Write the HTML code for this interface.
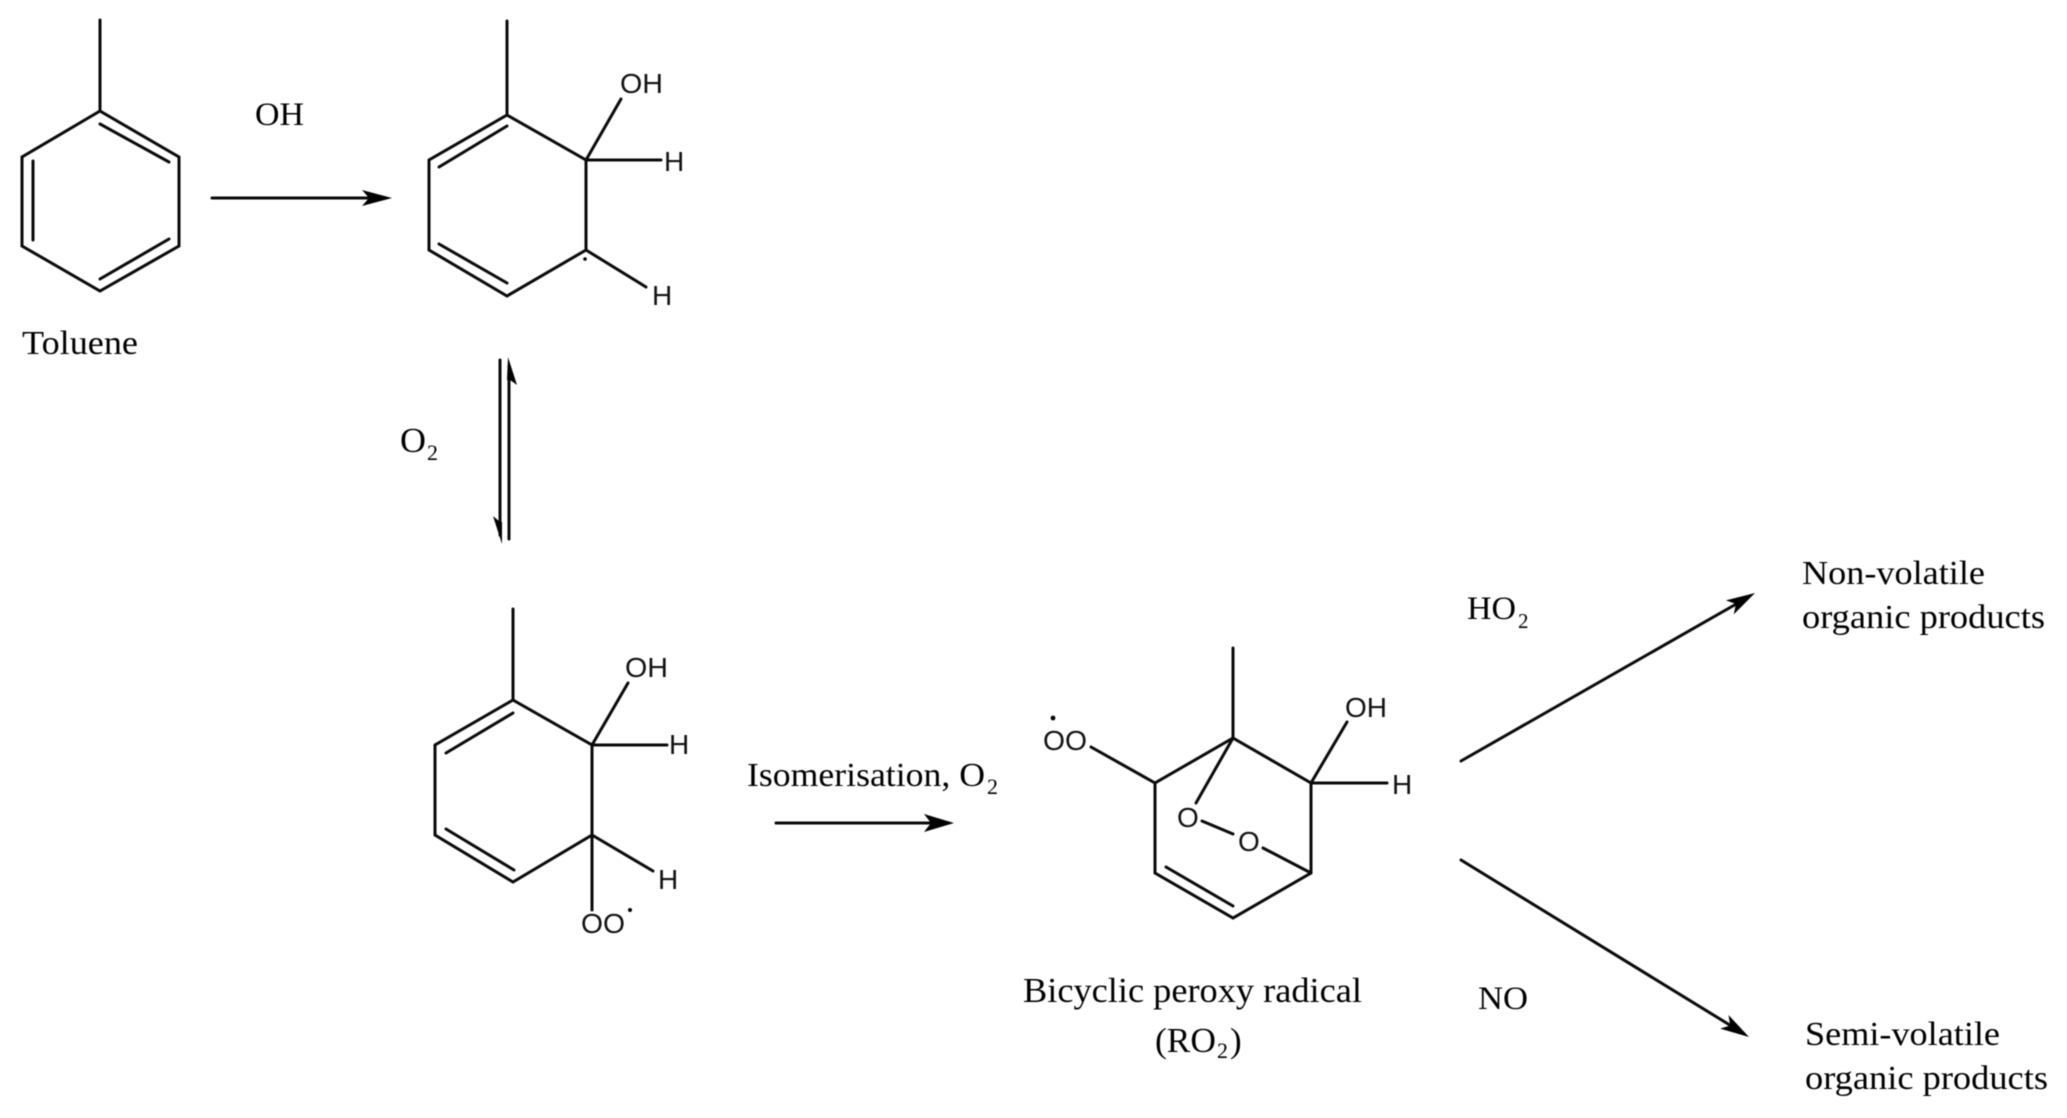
<!DOCTYPE html>
<html>
<head>
<meta charset="utf-8">
<style>
html,body{margin:0;padding:0;background:#fff;width:2067px;height:1118px;overflow:hidden}
svg{display:block;filter:blur(.45px)}
.b{fill:none;stroke:#0a0a0a;stroke-width:3;stroke-linecap:round;stroke-linejoin:miter}
.t{font-family:"Liberation Serif",serif;fill:#000}
.s{font-family:"Liberation Sans",sans-serif;fill:#111;font-size:28px}
</style>
</head>
<body>
<svg width="2067" height="1118" viewBox="0 0 2067 1118" xmlns="http://www.w3.org/2000/svg">
<!-- Toluene -->
<path class="b" d="M100 20V111L179 157V246L100 291L22 246V157L100 111"/>
<path class="b" d="M100 124L169 162M33 161V240M100 279L169 239"/>
<text class="t" x="22" y="354" font-size="34" textLength="116" lengthAdjust="spacingAndGlyphs">Toluene</text>

<!-- Arrow OH -->
<text class="t" x="255" y="125" font-size="33" textLength="49" lengthAdjust="spacingAndGlyphs">OH</text>
<path class="b" d="M212 198H372"/>
<polygon fill="#000" points="392,198 362,190 369,198 362,206"/>

<!-- Molecule 2 -->
<path class="b" d="M507 21V115L586 160V250L507 296L429 250V160L507 115"/>
<path class="b" d="M507 126L439 167M439 244L507 283"/>
<path class="b" d="M586 160L621 99M586 160H661M586 250L646 287"/>
<circle cx="585" cy="259" r="1.8" fill="#000"/>
<text class="s" x="620" y="93" textLength="43" lengthAdjust="spacingAndGlyphs">OH</text>
<text class="s" x="664" y="171">H</text>
<text class="s" x="652" y="305">H</text>

<!-- Equilibrium -->
<path class="b" d="M500 360V535M509 366V539"/>
<polygon fill="#000" points="502,544 493,516 500,522 502,522"/>
<polygon fill="#000" points="508,357 517,385 510,380 507,380"/>
<text class="t" x="400" y="452" font-size="35" textLength="26" lengthAdjust="spacingAndGlyphs">O</text>
<text class="t" x="427" y="460" font-size="22">2</text>

<!-- Molecule 3 -->
<path class="b" d="M513 609V700L592 745V835L513 882L435 835V745L513 700"/>
<path class="b" d="M513 713L446 753M446 829L514 870"/>
<path class="b" d="M592 745L628 683M592 745H667M592 835L653 871M592 835V910"/>
<text class="s" x="625" y="677" textLength="43" lengthAdjust="spacingAndGlyphs">OH</text>
<text class="s" x="669" y="754">H</text>
<text class="s" x="658" y="889">H</text>
<text class="s" x="581" y="933" textLength="44" lengthAdjust="spacingAndGlyphs">OO</text>
<circle cx="630" cy="910" r="2" fill="#000"/>

<!-- Arrow isomerisation -->
<text class="t" x="747" y="786" font-size="34" textLength="238" lengthAdjust="spacingAndGlyphs">Isomerisation, O</text>
<text class="t" x="987" y="794" font-size="22">2</text>
<path class="b" d="M776 823H932"/>
<polygon fill="#000" points="954,823 924,814 931,823 924,832"/>

<!-- Bicyclic -->
<path class="b" d="M1233 648V738L1311 783V873L1233 918L1155 873V783L1233 738"/>
<path class="b" d="M1166 867L1233 906"/>
<path class="b" d="M1155 783L1091 747M1311 783L1347 722M1311 783H1387"/>
<path class="b" d="M1233 738L1196 803M1202 821L1233 834M1263 848L1311 873"/>
<text class="s" x="1043" y="750" textLength="44" lengthAdjust="spacingAndGlyphs">OO</text>
<circle cx="1053" cy="718" r="2.4" fill="#000"/>
<text class="s" x="1345" y="717" textLength="42" lengthAdjust="spacingAndGlyphs">OH</text>
<text class="s" x="1392" y="794">H</text>
<text class="s" x="1177" y="827">O</text>
<text class="s" x="1238" y="851">O</text>
<text class="t" x="1023" y="1002" font-size="35" textLength="339" lengthAdjust="spacingAndGlyphs">Bicyclic peroxy radical</text>
<text class="t" x="1155" y="1052" font-size="35" textLength="61" lengthAdjust="spacingAndGlyphs">(RO</text>
<text class="t" x="1217" y="1058" font-size="22">2</text>
<text class="t" x="1230" y="1052" font-size="35">)</text>

<!-- Branch arrows -->
<path class="b" d="M1461 761L1738 603" stroke-width="2.6"/>
<polygon fill="#000" points="0,0 -29,-8 -22,0 -29,8" transform="translate(1755,593) rotate(-29.7)"/>
<path class="b" d="M1461 860L1733 1027" stroke-width="2.6"/>
<polygon fill="#000" points="0,0 -29,-8 -22,0 -29,8" transform="translate(1749,1037) rotate(31.6)"/>

<text class="t" x="1467" y="619" font-size="33" textLength="49" lengthAdjust="spacingAndGlyphs">HO</text>
<text class="t" x="1518" y="628" font-size="21">2</text>
<text class="t" x="1478" y="1009" font-size="33" textLength="50" lengthAdjust="spacingAndGlyphs">NO</text>

<text class="t" x="1802" y="584" font-size="34" textLength="183" lengthAdjust="spacingAndGlyphs">Non-volatile</text>
<text class="t" x="1802" y="628" font-size="34" textLength="243" lengthAdjust="spacingAndGlyphs">organic products</text>
<text class="t" x="1805" y="1045" font-size="34" textLength="195" lengthAdjust="spacingAndGlyphs">Semi-volatile</text>
<text class="t" x="1805" y="1089" font-size="34" textLength="243" lengthAdjust="spacingAndGlyphs">organic products</text>
</svg>
</body>
</html>
